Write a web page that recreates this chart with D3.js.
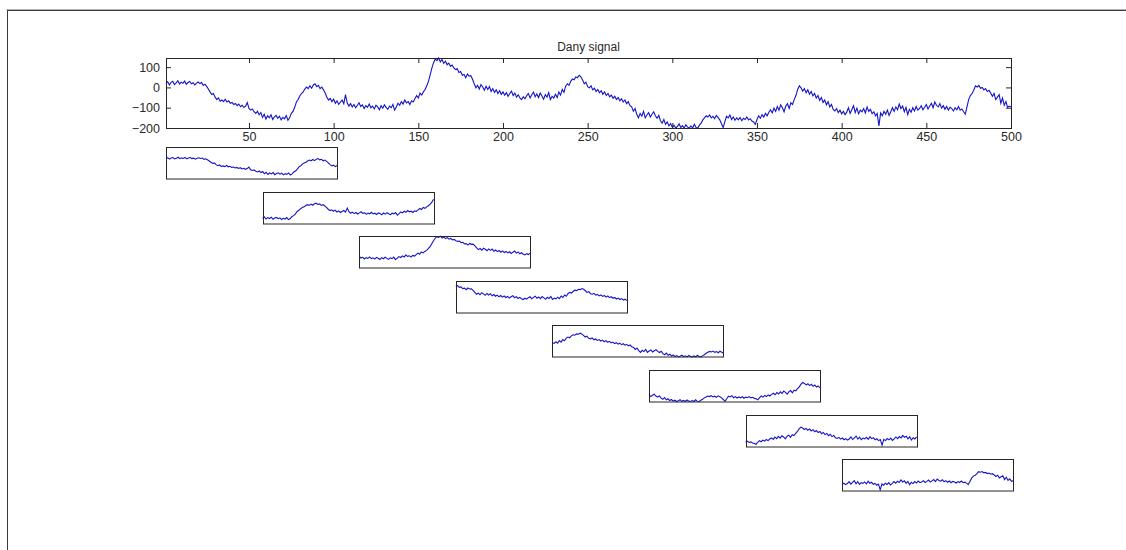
<!DOCTYPE html>
<html>
<head>
<meta charset="utf-8">
<script src="https://cdn.jsdelivr.net/npm/d3@7"></script>
<style>
  body { margin: 0; background: #fff; }
  svg { display: block; }
  .axis text { font-family: "Liberation Sans", Arial, sans-serif; font-size: 12.5px; fill: #2a2a2a; }
  .axis line, .axis path { stroke: #262626; }
</style>
</head>
<body>
<div id="chart"></div>
<script>
// signal, samples 1..500
const signal = [
  18, 28, 12, 25, 30, 14, 22, 33, 17, 26,
  20, 31, 15, 24, 29, 18, 23, 12, 21, 27,
  19, 24, 10, 16, 5, -8, -22, -35, -30, -48,
  -60, -52, -68, -62, -70, -58, -72, -66, -78, -74,
  -84, -79, -90, -82, -95, -88, -99, -92, -75, -104,
  -112, -106, -120, -128, -118, -135, -124, -148, -132, -156,
  -140, -150, -135, -158, -145, -138, -152, -142, -160, -147,
  -155, -139, -162, -150, -128, -118, -98, -72, -60, -42,
  -30, -22, -8, 2, -6, 8, -4, 12, 18, 4,
  10, -6, 2, -12, -28, -48, -62, -54, -70, -58,
  -78, -66, -84, -72, -62, -80, -36, -76, -92, -80,
  -96, -84, -100, -88, -76, -94, -86, -104, -90, -98,
  -82, -100, -92, -106, -88, -96, -110, -90, -102, -86,
  -98, -108, -92, -100, -84, -112, -96, -78, -88, -70,
  -82, -62, -76, -70, -84, -66, -72, -56, -40, -52,
  -28, -38, -22, -10, 8, 30, 62, 95, 122, 140,
  132, 145, 126, 138, 118, 130, 112, 120, 104, 110,
  96, 88, 92, 74, 78, 60, 64, 48, 66, 56,
  58, 40, 18, -2, 10, -8, 14, 2, -14, 6,
  -10, 4, -20, -6, -24, -12, -30, -16, -34, -22,
  -38, -26, -44, -30, -18, -40, -28, -48, -36, -52,
  -60, -46, -56, -40, -30, -52, -36, -24, -46, -32,
  -50, -28, -42, -58, -36, -48, -26, -60, -44, -52,
  -34, -50, -22, -38, -10, -24, 6, 18, 10, 30,
  42, 38, 52, 48, 60, 52, 36, 18, 26, 4,
  -2, 8, -12, -4, -20, -10, -26, -16, -34, -22,
  -40, -30, -46, -38, -54, -44, -60, -50, -66, -56,
  -72, -62, -80, -70, -90, -96, -118, -104, -132, -150,
  -128, -142, -118, -150, -136, -124, -146, -132, -120, -140,
  -152, -138, -164, -176, -158, -182, -170, -190, -178, -196,
  -186, -200, -192, -180, -198, -188, -200, -184, -196, -200,
  -190, -200, -182, -198, -200, -186, -176, -160, -150, -140,
  -146, -136, -150, -142, -154, -138, -148, -160, -178, -198,
  -170, -142, -150, -136, -158, -146, -162, -150, -160, -148,
  -164, -152, -158, -146, -160, -154, -166, -170, -182, -158,
  -140, -152, -134, -146, -128, -140, -122, -110, -126, -102,
  -118, -94, -112, -86, -100, -120, -92, -80, -104, -76,
  -84, -60, -40, -10, 8, -2, -18, -6, -26, -12,
  -34, -20, -42, -30, -52, -40, -64, -50, -74, -62,
  -86, -70, -96, -84, -108, -116, -104, -124, -112, -130,
  -118, -134, -122, -100, -128, -110, -90, -124, -102, -130,
  -112, -120, -104, -126, -96, -118, -108, -130, -120, -140,
  -128, -190, -126, -140, -118, -132, -112, -138, -120, -100,
  -118, -96, -110, -82, -104, -92, -120, -98, -134, -108,
  -122, -100, -116, -94, -112, -104, -90, -110, -98, -84,
  -106, -92, -78, -100, -72, -88, -96, -80, -102, -90,
  -108, -94, -112, -98, -104, -116, -100, -110, -94, -112,
  -106, -120, -132, -96, -60, -40, -30, -14, 8, 2,
  10, -4, 0, -12, -6, -20, -14, -28, -44, -30,
  -60, -48, -36, -78, -52, -88, -70, -98, -92, -96
];

const xTicks = [50, 100, 150, 200, 250, 300, 350, 400, 450, 500];
const yTicks = [-200, -100, 0, 100];
const windowStarts = [1, 58, 115, 172, 229, 286, 343, 400];
const windowLength = 100;
const title = "Dany signal";

const width = 1126;
const height = 550;

const main = { left: 166, top: 58, width: 845, height: 70 };
const win = { left: 166, top: 147, dx: 96.6, dy: 44.6, width: 171, height: 31.5 };
const tickLen = 5;
const lineColor = "#1414c8";

const points = signal.map((v, i) => ({ n: i + 1, v }));

const svg = d3.select("#chart")
  .append("svg")
  .attr("width", width)
  .attr("height", height);

// figure frame (top and left edge only)
svg.append("line")
  .attr("x1", 6).attr("x2", width).attr("y1", 9.5).attr("y2", 9.5)
  .attr("stroke", "#b4b4b4");
svg.append("line")
  .attr("x1", 7).attr("x2", width).attr("y1", 10.5).attr("y2", 10.5)
  .attr("stroke", "#3a3a3a");
svg.append("line")
  .attr("x1", 7.5).attr("x2", 7.5).attr("y1", 10).attr("y2", height)
  .attr("stroke", "#3a3a3a");

// main axes
const x = d3.scaleLinear()
  .domain([1, signal.length])
  .range([main.left, main.left + main.width]);

const y = d3.scaleLinear()
  .domain(d3.extent(signal))
  .range([main.top + main.height, main.top]);

const line = d3.line()
  .x((d) => x(d.n))
  .y((d) => y(d.v));

svg.append("path")
  .datum(points)
  .attr("fill", "none")
  .attr("stroke", lineColor)
  .attr("stroke-width", 1.1)
  .attr("d", line);

svg.append("g")
  .attr("class", "axis")
  .attr("transform", `translate(0,${main.top + main.height})`)
  .call(d3.axisBottom(x).tickValues(xTicks).tickSize(-tickLen).tickSizeOuter(0).tickPadding(4))
  .call((g) => g.select(".domain").remove());

svg.append("g")
  .attr("class", "axis")
  .attr("transform", `translate(0,${main.top})`)
  .call(d3.axisTop(x).tickValues(xTicks).tickSize(-tickLen).tickSizeOuter(0).tickFormat(""))
  .call((g) => g.select(".domain").remove());

svg.append("g")
  .attr("class", "axis")
  .attr("transform", `translate(${main.left},0)`)
  .call(d3.axisLeft(y).tickValues(yTicks).tickSize(-tickLen).tickSizeOuter(0).tickPadding(6))
  .call((g) => g.select(".domain").remove());

svg.append("g")
  .attr("class", "axis")
  .attr("transform", `translate(${main.left + main.width},0)`)
  .call(d3.axisRight(y).tickValues(yTicks).tickSize(-tickLen).tickSizeOuter(0).tickFormat(""))
  .call((g) => g.select(".domain").remove());

svg.append("rect")
  .attr("x", main.left + 0.5)
  .attr("y", main.top + 0.5)
  .attr("width", main.width)
  .attr("height", main.height)
  .attr("fill", "none")
  .attr("stroke", "#262626");

svg.append("text")
  .attr("x", main.left + main.width / 2)
  .attr("y", main.top - 7)
  .attr("text-anchor", "middle")
  .attr("font-family", "Liberation Sans, Arial, sans-serif")
  .attr("font-size", 12)
  .attr("fill", "#2a2a2a")
  .text(title);

// sliding windows
windowStarts.forEach((start, k) => {
  const left = win.left + k * win.dx;
  const top = win.top + k * win.dy;
  const end = start + windowLength - 1;

  const wx = d3.scaleLinear().domain([start, end]).range([left, left + win.width]);
  const wy = d3.scaleLinear().domain(y.domain()).range([top + win.height, top]);

  svg.append("path")
    .datum(points.filter((d) => d.n >= start && d.n <= end))
    .attr("fill", "none")
    .attr("stroke", lineColor)
    .attr("stroke-width", 1.1)
    .attr("d", d3.line().x((d) => wx(d.n)).y((d) => wy(d.v)));

  svg.append("rect")
    .attr("x", Math.round(left) + 0.5)
    .attr("y", Math.round(top) + 0.5)
    .attr("width", win.width)
    .attr("height", win.height)
    .attr("fill", "none")
    .attr("stroke", "#262626");
});
</script>
</body>
</html>
